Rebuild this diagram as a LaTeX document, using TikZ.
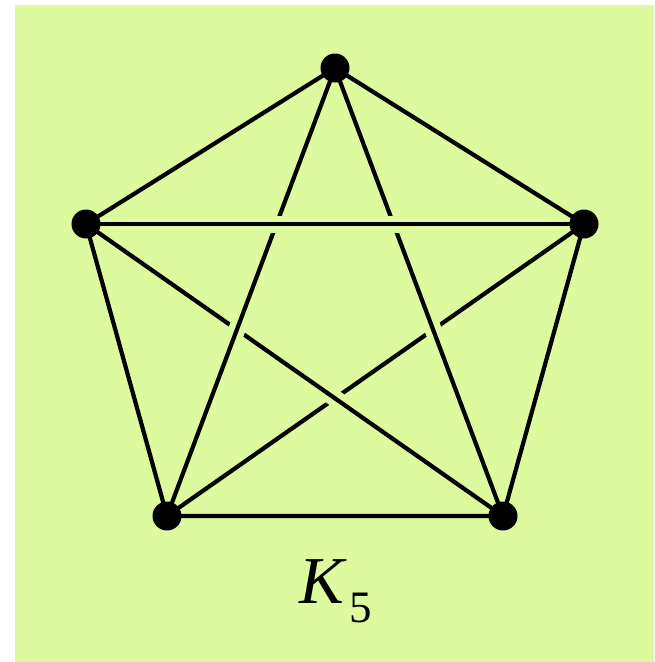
\documentclass[tikz,border=0pt]{standalone}
\usepackage{fontspec}
\setmainfont{Liberation Serif}
\definecolor{bg}{RGB}{222,250,158}
\tikzset{
  vdot/.style={circle,fill=black,inner sep=0pt,minimum size=29pt},
  edge/.style={line width=4.2pt,black},
  halo/.style={line width=17pt,bg,shorten <=32pt,shorten >=32pt},
}
\begin{document}
\begin{tikzpicture}[x=1pt,y=-1pt]
\useasboundingbox (0,0) rectangle (654,662);
\fill[white] (0,0) rectangle (654,662);
\fill[bg] (15,5) rectangle (654,662);
\coordinate (T) at (335,68);
\coordinate (L) at (86,224);
\coordinate (R) at (584,224);
\coordinate (BL) at (167,516);
\coordinate (BR) at (503,516);
% outer pentagon
\draw[edge] (T) -- (R) -- (BR) -- (BL) -- (L) -- cycle;
% inner edges, under first
\draw[edge] (R) -- (BL);
\draw[halo] (L) -- (BR);
\draw[edge] (L) -- (BR);
\draw[halo] (T) -- (BR);
\draw[edge] (T) -- (BR);
\draw[halo] (T) -- (BL);
\draw[edge] (T) -- (BL);
\draw[halo] (L) -- (R);
\draw[edge] (L) -- (R);
% vertices
\node[vdot] (vT) at (T) {};
\node[vdot] (vL) at (L) {};
\node[vdot] (vR) at (R) {};
\node[vdot] (vBL) at (BL) {};
\node[vdot] (vBR) at (BR) {};
\node[anchor=base,inner sep=0pt] (lab) at (336,603) {\fontsize{67}{70}\selectfont\textit{K}\hspace{2pt}\raisebox{-19pt}{\fontsize{45}{47}\selectfont 5}};
\end{tikzpicture}
\end{document}
